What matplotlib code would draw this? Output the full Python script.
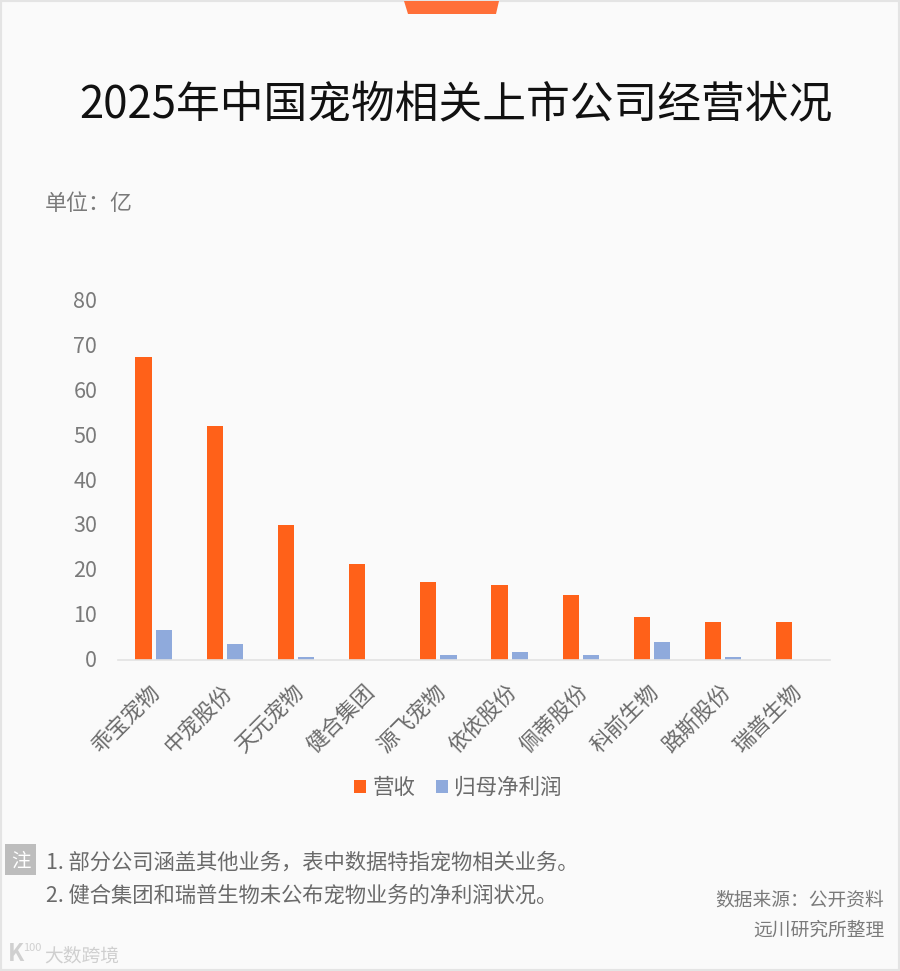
import matplotlib
matplotlib.use('Agg')
import matplotlib.pyplot as plt
from matplotlib.patches import Polygon, Rectangle
from matplotlib.transforms import Affine2D
import numpy as np

plt.rcParams['font.family'] = ['Noto Sans CJK SC', 'DejaVu Sans']

companies = ['乖宝宠物', '中宠股份', '天元宠物', '健合集团', '源飞宠物', '依依股份', '佩蒂股份', '科前生物', '路斯股份', '瑞普生物']
revenue = [67.5, 52.1, 30.0, 21.4, 17.3, 16.7, 14.4, 9.5, 8.5, 8.5]
profit = [6.7, 3.6, 0.6, 0, 1.2, 1.8, 1.2, 4.1, 0.6, 0]
yticks = [0, 10, 20, 30, 40, 50, 60, 70, 80]

W, H = 900, 971
BG = '#FAFAFA'
fig = plt.figure(figsize=(W/100, H/100), dpi=100, facecolor=BG)

def fx(x): return x/W
def fy(y): return 1-y/H

# page frame and top tab
fig.add_artist(Rectangle((0, 0), 1, 1, transform=fig.transFigure, fc='none', ec='#E4E4E4', lw=3))
fig.add_artist(Polygon([(fx(404), fy(1)), (fx(499), fy(1)), (fx(496), fy(14)), (fx(408), fy(14))],
                       transform=fig.transFigure, fc='#FF6F38', ec='none'))

ax = fig.add_axes([fx(118), fy(660), (830-118)/W, (660-301)/H], facecolor='none')
x = np.arange(len(companies))
bw = 0.228
off = 0.142
b1 = ax.bar(x-off, revenue, bw, color='#FF6119', label='营收')
b2 = ax.bar(x+off, profit, bw, color='#8FAADC', label='归母净利润')
ax.set_xlim(-0.5, 9.5)
ax.set_ylim(0, 80)
ax.set_yticks(yticks)
ax.tick_params(axis='y', length=0, labelsize=15.5, labelcolor='#7A7A7A', pad=15)
ax.set_xticks(x)
ax.set_xticklabels(companies, rotation=45, ha='right', rotation_mode='anchor', fontsize=15.5, color='#6A6A6A')
ax.tick_params(axis='x', length=0, pad=9)
for s in ['top', 'right', 'left']:
    ax.spines[s].set_visible(False)
ax.spines['bottom'].set_color('#E2E2E2')
ax.spines['bottom'].set_linewidth(1.2)
for lab in ax.get_xticklabels():
    lab.set_transform(lab.get_transform() + Affine2D().translate(-4, -8))
for lab in ax.get_yticklabels():
    lab.set_transform(lab.get_transform() + Affine2D().translate(0, 1.5))

leg = fig.legend(handles=[b1, b2], loc='center', bbox_to_anchor=(fx(458), fy(788)), ncol=2, frameon=False,
                 fontsize=15.5, handlelength=0.56, handleheight=0.56, handletextpad=0.28, columnspacing=0.97,
                 labelcolor='#6A6A6A')

fig.text(fx(456), fy(104), '2025年中国宠物相关上市公司经营状况', fontsize=31.5, color='#111111', ha='center', va='center')
fig.text(fx(45), fy(204), '单位：亿', fontsize=15.8, color='#7A7A7A', ha='left', va='center')

fig.add_artist(Rectangle((fx(5), fy(875)), 31/W, 31/H, transform=fig.transFigure, fc='#BDBDBD', ec='none'))
fig.text(fx(20.5), fy(861), '注', fontsize=14, color='white', ha='center', va='center')
fig.text(fx(46), fy(863), '1. 部分公司涵盖其他业务，表中数据特指宠物相关业务。', fontsize=15.35, color='#6A6A6A', ha='left', va='center')
fig.text(fx(46), fy(896), '2. 健合集团和瑞普生物未公布宠物业务的净利润状况。', fontsize=15.35, color='#6A6A6A', ha='left', va='center')
fig.text(fx(884), fy(900), '数据来源：公开资料', fontsize=13.5, color='#7A7A7A', ha='right', va='center')
fig.text(fx(884), fy(930), '远川研究所整理', fontsize=13.5, color='#7A7A7A', ha='right', va='center')
fig.text(fx(44), fy(956), '大数跨境', fontsize=13.5, color='#CFCFCF', ha='left', va='center')
fig.text(fx(8), fy(954), 'K', fontsize=17, color='#D0D0D0', ha='left', va='center', fontweight='bold')
fig.text(fx(23), fy(948), '100', fontsize=8, color='#D0D0D0', ha='left', va='center')

fig.savefig('out.png', dpi=100, facecolor=BG)
